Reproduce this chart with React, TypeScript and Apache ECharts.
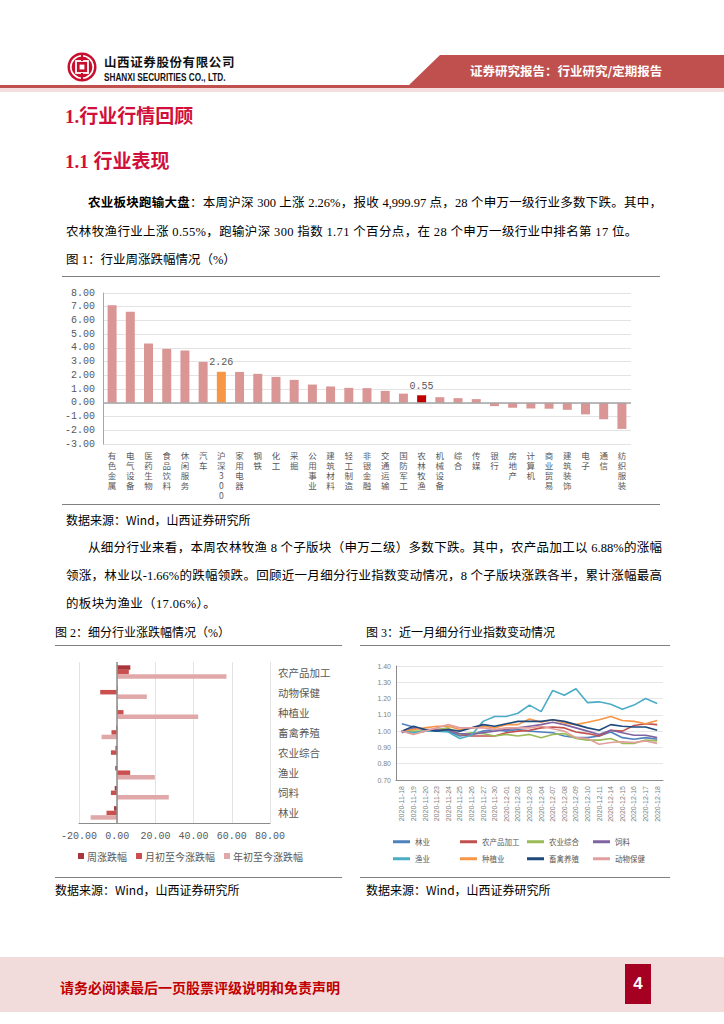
import React, { useEffect, useRef } from "react";
import * as echarts from "echarts";

// ---------- Figure 1 data ----------
const industries = ["有色金属","电气设备","医药生物","食品饮料","休闲服务","汽车","沪深300","家用电器","钢铁","化工","采掘","公用事业","建筑材料","轻工制造","非银金融","交通运输","国防军工","农林牧渔","机械设备","综合","传媒","银行","房地产","计算机","商业贸易","建筑装饰","电子","通信","纺织服装"];
const weeklyChange = [7.10,6.64,4.32,3.93,3.81,2.98,2.26,2.25,2.11,1.89,1.67,1.33,1.19,1.09,1.07,0.87,0.67,0.55,0.41,0.34,0.27,-0.24,-0.36,-0.41,-0.43,-0.51,-0.84,-1.20,-1.90];
const benchmarkName = "沪深300";
const focusName = "农林牧渔";

// ---------- Figure 2 data ----------
const subSectors = ["农产品加工","动物保健","种植业","畜禽养殖","农业综合","渔业","饲料","林业"];
const weekPct = [6.88,0.30,0.20,-0.50,-0.90,-1.00,-1.30,-1.66];
const monthPct = [6.10,-8.90,3.30,-3.00,-3.30,6.80,-3.30,-5.60];
const yearPct = [57.2,15.5,42.4,-8.2,-0.2,19.7,27.0,-13.9];
const fig2Series = ["周涨跌幅","月初至今涨跌幅","年初至今涨跌幅"];

// ---------- Figure 3 data ----------
const dates = ["2020-11-18","2020-11-19","2020-11-20","2020-11-23","2020-11-24","2020-11-25","2020-11-26","2020-11-27","2020-11-30","2020-12-01","2020-12-02","2020-12-03","2020-12-04","2020-12-07","2020-12-08","2020-12-09","2020-12-10","2020-12-11","2020-12-14","2020-12-15","2020-12-16","2020-12-17","2020-12-18"];
const lineNames = ["林业","农产品加工","农业综合","饲料","渔业","种植业","畜禽养殖","动物保健"];
const linForestry = [1.045,1.025,1.01,1.00,1.00,0.97,0.98,1.00,1.01,1.00,1.01,1.00,0.995,0.99,0.97,0.96,0.96,0.97,0.995,0.96,0.95,0.96,0.95];
const linProcessing = [1.00,0.99,1.00,1.01,1.01,0.98,0.97,0.97,0.97,0.99,1.00,1.005,1.02,1.025,1.02,0.995,0.985,0.97,1.005,1.00,1.035,1.045,1.04];
const linComposite = [1.00,1.00,1.00,1.01,1.02,0.98,0.99,0.985,0.97,0.98,0.97,0.98,0.96,0.98,0.985,0.955,0.945,0.945,0.955,0.925,0.925,0.945,0.94];
const linFeed = [0.99,1.02,1.01,1.01,1.00,0.985,0.98,0.99,1.00,1.01,1.02,1.03,1.04,1.055,1.04,1.02,1.00,0.98,1.005,0.99,0.975,0.975,0.96];
const linFishery = [1.00,0.99,1.00,1.00,0.995,0.955,0.975,1.06,1.09,1.09,1.11,1.16,1.12,1.25,1.22,1.26,1.175,1.18,1.165,1.135,1.16,1.20,1.17];
const linPlanting = [1.00,1.01,1.02,1.03,1.03,1.01,1.02,1.03,1.02,1.04,1.04,1.075,1.055,1.07,1.05,1.04,1.055,1.07,1.09,1.065,1.06,1.045,1.065];
const linLivestock = [1.00,1.03,1.01,1.00,1.01,1.00,1.02,1.04,1.03,1.045,1.06,1.06,1.06,1.07,1.06,1.04,1.02,1.005,1.04,1.03,1.025,1.025,1.005];
const linAnimalHealth = [1.00,0.98,1.00,1.02,1.04,1.02,1.02,1.02,1.01,1.02,1.02,1.02,1.03,1.015,1.00,0.96,0.955,0.92,0.93,0.935,0.93,0.94,0.925];
const lineData = [linForestry,linProcessing,linComposite,linFeed,linFishery,linPlanting,linLivestock,linAnimalHealth];
const lineColors = ["#4f81bd","#c0504d","#9bbb59","#8064a2","#4bacc6","#f79646","#1f497d","#e39e9e"];

const CJK = '"Noto Sans CJK SC", sans-serif';
const SERIF = '"Liberation Serif", "Noto Sans CJK SC", serif';
const MONO = '"Liberation Mono", "DejaVu Sans Mono", monospace';

function EChart({ option, style }: { option: any; style: React.CSSProperties }) {
  const ref = useRef<HTMLDivElement>(null);
  useEffect(() => {
    const c = echarts.init(ref.current as HTMLDivElement, null, { renderer: "svg" });
    c.setOption(option);
    return () => c.dispose();
  }, []);
  return <div ref={ref} style={style} />;
}

const fig1Option = {
  animation: false,
  grid: { left: 43, right: 29, top: 13, height: 151 },
  xAxis: {
    type: "category",
    data: industries,
    axisLine: { show: false, onZero: false },
    axisTick: { show: false },
    axisLabel: {
      interval: 0,
      formatter: (v: string) => v.split("").join("\n"),
      color: "#595959",
      fontSize: 8.5,
      lineHeight: 10,
      margin: 6,
      fontFamily: CJK,
      verticalAlign: "top",
    },
  },
  yAxis: {
    type: "value",
    min: -3,
    max: 8,
    interval: 1,
    axisLine: { show: true, lineStyle: { color: "#a6a6a6" } },
    axisTick: { show: false },
    axisLabel: { formatter: (v: number) => v.toFixed(2), color: "#595959", fontFamily: MONO, fontSize: 10, margin: 8 },
    splitLine: { lineStyle: { color: "#e3e3e3" } },
  },
  series: [
    {
      type: "bar",
      barWidth: 9,
      data: weeklyChange.map((v, i) => {
        const n = industries[i];
        if (n === benchmarkName || n === focusName) {
          return {
            value: v,
            itemStyle: { color: n === benchmarkName ? "#f79646" : "#c00000" },
            label: { show: true, position: "top", distance: 4, color: "#595959", fontFamily: MONO, fontSize: 10, formatter: (p: any) => p.value.toFixed(2) },
          };
        }
        return v;
      }),
      itemStyle: { color: "#da9694" },
      markLine: {
        silent: true,
        symbol: "none",
        label: { show: false },
        lineStyle: { color: "#a6a6a6", type: "solid", width: 1.5 },
        data: [{ yAxis: 0 }],
      },
    },
  ],
};

const fig2Colors = ["#a8363a", "#c9504f", "#e0a8a8"];
const fig2Data = [weekPct, monthPct, yearPct];
const fig2Option = {
  animation: false,
  grid: { left: 29, width: 191, top: 12, height: 161 },
  legend: {
    left: 28,
    top: 201,
    padding: 0,
    itemGap: 9,
    itemWidth: 6,
    itemHeight: 6,
    icon: "rect",
    data: fig2Series,
    textStyle: { color: "#595959", fontSize: 10, fontFamily: CJK, padding: [0, 0, 0, -2] },
  },
  xAxis: {
    type: "value",
    min: -20,
    max: 80,
    interval: 20,
    axisLine: { show: true, lineStyle: { color: "#8c8c8c" } },
    axisTick: { show: false },
    axisLabel: { formatter: (v: number) => v.toFixed(2), color: "#595959", fontFamily: MONO, fontSize: 10, margin: 8 },
    splitLine: { show: true, lineStyle: { color: "#e3e3e3" } },
  },
  yAxis: {
    type: "category",
    data: subSectors,
    inverse: true,
    position: "right",
    axisLine: { show: false, onZero: false },
    axisTick: { show: false },
    axisLabel: { color: "#595959", fontSize: 10.5, margin: 8, fontFamily: CJK },
  },
  series: fig2Series.map((name, i) => ({
    name,
    type: "bar",
    barWidth: 4.5,
    barGap: "0%",
    data: fig2Data[i],
    itemStyle: { color: fig2Colors[i] },
    ...(i === 0
      ? {
          markLine: {
            silent: true,
            symbol: "none",
            label: { show: false },
            lineStyle: { color: "#8c8c8c", type: "solid", width: 1.5 },
            data: [{ xAxis: 0 }],
          },
        }
      : {}),
  })),
};

const legendLefts = [38, 105, 172, 238];
const fig3Option = {
  animation: false,
  grid: { left: 41, right: 12, top: 16, height: 114 },
  legend: lineNames.map((n, i) => ({
    data: [n],
    left: legendLefts[i % 4],
    top: i < 4 ? 188 : 205,
    padding: 0,
    itemWidth: 17,
    itemHeight: 3,
    icon: "rect",
    textStyle: { color: "#595959", fontSize: 7.5, fontFamily: CJK },
  })),
  xAxis: {
    type: "category",
    data: dates,
    boundaryGap: true,
    axisLine: { show: true, lineStyle: { color: "#8c8c8c" } },
    axisTick: { show: false },
    axisLabel: { interval: 0, rotate: 90, fontSize: 7, color: "#7f7f7f", margin: 6, fontFamily: '"Liberation Sans", sans-serif' },
  },
  yAxis: {
    type: "value",
    min: 0.7,
    max: 1.4,
    interval: 0.1,
    axisLine: { show: true, lineStyle: { color: "#8c8c8c" } },
    axisTick: { show: false },
    axisLabel: { formatter: (v: number) => v.toFixed(2), fontSize: 7, color: "#7f7f7f", margin: 5, fontFamily: '"Liberation Sans", sans-serif' },
    splitLine: { lineStyle: { color: "#e6e6e6" } },
  },
  series: lineNames.map((n, i) => ({
    name: n,
    type: "line",
    data: lineData[i],
    symbol: "none",
    lineStyle: { width: 1.6, color: lineColors[i] },
    itemStyle: { color: lineColors[i] },
  })),
};

function T({ x, y, size, children, style }: { x: number; y: number; size: number; children: any; style?: React.CSSProperties }) {
  const lh = size * 1.5;
  return (
    <div style={{ position: "absolute", left: x, top: y - lh / 2, fontSize: size, lineHeight: lh + "px", whiteSpace: "nowrap", fontFamily: SERIF, color: "#000", ...style }}>
      {children}
    </div>
  );
}

function HLine({ x1, x2, y, color = "#7f7f7f", h = 1.5 }: { x1: number; x2: number; y: number; color?: string; h?: number }) {
  return <div style={{ position: "absolute", left: x1, top: y, width: x2 - x1, height: h, background: color }} />;
}

function Justified({ x, y, w, size, children }: { x: number; y: number; w: number; size: number; children: any }) {
  return (
    <T x={x} y={y} size={size} style={{ width: w, whiteSpace: "normal", textAlign: "justify", textAlignLast: "justify" as any }}>
      {children}
    </T>
  );
}

function Logo() {
  return (
    <svg width="30" height="30" viewBox="0 0 30 30" style={{ position: "absolute", left: 67, top: 52 }}>
      <circle cx="15" cy="15" r="14.5" fill="#c8102e" />
      <circle cx="15" cy="15" r="11.2" fill="none" stroke="#fff" strokeWidth="1.6" />
      <rect x="9" y="9" width="12" height="12" fill="none" stroke="#fff" strokeWidth="1.8" />
      <rect x="12.6" y="12.6" width="4.8" height="4.8" fill="#fff" />
      <rect x="14" y="3" width="2" height="6" fill="#c8102e" />
      <rect x="14" y="21" width="2" height="6" fill="#c8102e" />
    </svg>
  );
}

export default function App() {
  const body = 12.5;
  return (
    <div style={{ position: "absolute", left: 0, top: 0, width: 724, height: 1024, background: "#fff", overflow: "hidden" }}>
      {/* Header */}
      <Logo />
      <T x={104} y={62} size={12.5} style={{ fontFamily: CJK, fontWeight: 700, letterSpacing: 0.6, color: "#111" }}>山西证券股份有限公司</T>
      <T x={104} y={77.5} size={10} style={{ fontFamily: '"Liberation Sans", sans-serif', fontWeight: 700, color: "#111", transform: "scaleX(0.82)", transformOrigin: "left center" }}>SHANXI SECURITIES CO., LTD.</T>
      <div style={{ position: "absolute", left: 408, top: 55, width: 316, height: 31, background: "#c0504d", clipPath: "polygon(32px 0, 100% 0, 100% 100%, 0 100%)" }} />
      <T x={470} y={71.5} size={12.5} style={{ fontFamily: CJK, fontWeight: 700, color: "#fff" }}>证券研究报告：行业研究/定期报告</T>
      <HLine x1={0} x2={724} y={85} h={3} color="#c0504d" />
      <HLine x1={0} x2={724} y={88} h={4} color="#f4dede" />

      {/* Headings */}
      <T x={65} y={117} size={19} style={{ fontWeight: 700, color: "#d0103a" }}>1.行业行情回顾</T>
      <T x={65} y={162} size={19} style={{ fontWeight: 700, color: "#d0103a" }}>1.1 行业表现</T>

      <Justified x={88} y={203} w={574} size={body}>
        <b>农业板块跑输大盘</b>：本周沪深 300 上涨 2.26%，报收 4,999.97 点，28 个申万一级行业多数下跌。其中，
      </Justified>
      <T x={66} y={232} size={body} style={{ letterSpacing: 0.35 }}>农林牧渔行业上涨 0.55%，跑输沪深 300 指数 1.71 个百分点，在 28 个申万一级行业中排名第 17 位。</T>
      <T x={66} y={260} size={12.5}>图 1：行业周涨跌幅情况（%）</T>
      <HLine x1={62} x2={660} y={275.5} />

      <EChart option={fig1Option} style={{ position: "absolute", left: 60, top: 280, width: 600, height: 222 }} />

      <HLine x1={62} x2={660} y={503.5} />
      <T x={66} y={520} size={12} style={{ fontFamily: CJK }}>数据来源：Wind，山西证券研究所</T>

      <Justified x={88} y={548} w={574} size={body}>
        从细分行业来看，本周农林牧渔 8 个子版块（申万二级）多数下跌。其中，农产品加工以 6.88%的涨幅
      </Justified>
      <Justified x={66} y={576} w={596} size={body}>
        领涨，林业以-1.66%的跌幅领跌。回顾近一月细分行业指数变动情况，8 个子版块涨跌各半，累计涨幅最高
      </Justified>
      <T x={66} y={604} size={body} style={{ letterSpacing: 0.35 }}>的板块为渔业（17.06%）。</T>

      <T x={55} y={633} size={12}>图 2：细分行业涨跌幅情况（%）</T>
      <T x={366} y={633} size={12}>图 3：近一月细分行业指数变动情况</T>
      <HLine x1={55} x2={342} y={644.5} />
      <HLine x1={360} x2={670} y={644.5} />

      <EChart option={fig2Option} style={{ position: "absolute", left: 50, top: 650, width: 300, height: 222 }} />
      <EChart option={fig3Option} style={{ position: "absolute", left: 355, top: 650, width: 320, height: 222 }} />

      <HLine x1={55} x2={342} y={876.5} />
      <HLine x1={360} x2={670} y={876.5} />
      <T x={55} y={890} size={12} style={{ fontFamily: CJK }}>数据来源：Wind，山西证券研究所</T>
      <T x={366} y={890} size={12} style={{ fontFamily: CJK }}>数据来源：Wind，山西证券研究所</T>

      {/* Footer */}
      <div style={{ position: "absolute", left: 0, top: 957, width: 724, height: 55, background: "#f2dcdb" }} />
      <T x={60} y={987.5} size={14} style={{ fontFamily: CJK, fontWeight: 700, color: "#c00000" }}>请务必阅读最后一页股票评级说明和免责声明</T>
      <div style={{ position: "absolute", left: 625, top: 964, width: 26, height: 40, background: "#a50021", color: "#fff", fontFamily: '"Liberation Sans", sans-serif', fontWeight: 700, fontSize: 17, lineHeight: "40px", textAlign: "center" }}>4</div>
    </div>
  );
}
